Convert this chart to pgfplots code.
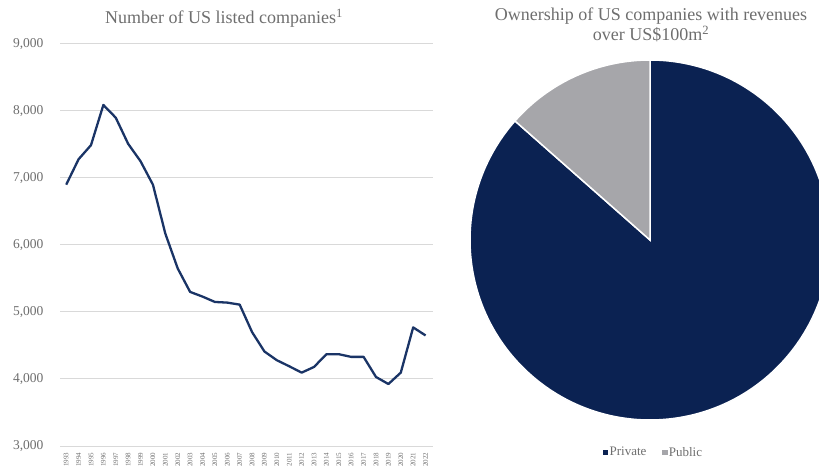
\documentclass[border=0pt]{standalone}
\usepackage{fontspec}
\setmainfont{Liberation Serif}
\usepackage{pgfplots}
\pgfplotsset{compat=1.18}
\definecolor{navy}{HTML}{0B2252}
\definecolor{linenavy}{HTML}{1A3466}
\definecolor{pubgray}{HTML}{A6A6AA}
\definecolor{txtgray}{HTML}{6E6E6E}
\definecolor{gridgray}{HTML}{D9D9D9}
\begin{document}
\begin{tikzpicture}[x=1pt,y=1pt]
\useasboundingbox (0,0) rectangle (819,471);
\begin{axis}[at={(60pt,25pt)}, anchor=south west, scale only axis,
  width=373pt, height=402pt,
  xmin=1992.5, xmax=2022.6, ymin=3000, ymax=9000,
  axis line style={draw=none}, tick style={draw=none},
  ymajorgrids, grid style={gridgray, line width=1pt},
  ytick={3000,4000,...,9000},
  xtick={1993,...,2022},
  /pgf/number format/assume math mode=true,
  x tick label style={rotate=90, anchor=east, font=\fontsize{7}{8}\selectfont, text=txtgray, /pgf/number format/1000 sep={}},
  y tick label style={font=\fontsize{13.5}{15}\selectfont, text=txtgray, /pgf/number format/1000 sep={,}},
  yticklabel shift=13pt, xticklabel shift=3pt,
  clip=false]
\addplot[linenavy, line width=2.3pt, line join=round] coordinates {
(1993,6900) (1994,7280) (1995,7490) (1996,8090) (1997,7900) (1998,7510)
(1999,7250) (2000,6900) (2001,6170) (2002,5650) (2003,5300) (2004,5230)
(2005,5150) (2006,5140) (2007,5110) (2008,4700) (2009,4410) (2010,4280)
(2011,4190) (2012,4095) (2013,4180) (2014,4370) (2015,4370) (2016,4330)
(2017,4330) (2018,4030) (2019,3925) (2020,4095) (2021,4770) (2022,4650)};
\end{axis}
\node[text=txtgray, font=\fontsize{18}{20}\selectfont] at (224,453) {Number of US listed companies\textsuperscript{1}};
\node[text=txtgray, font=\fontsize{18}{20}\selectfont, align=center] at (651,446) {Ownership of US companies with revenues\\over US\$100m\textsuperscript{2}};
\pgfmathsetmacro{\pubpct}{13.5}
\pgfmathsetmacro{\privpct}{86.5}
\pgfmathsetmacro{\angA}{90}
\pgfmathsetmacro{\angB}{90+3.6*\pubpct}
\pgfmathsetmacro{\angC}{\angB+3.6*\privpct}
\begin{axis}[at={(470pt,51pt)}, anchor=south west, scale only axis,
  width=360pt, height=360pt, xmin=-1, xmax=1, ymin=-1, ymax=1, hide axis, clip=false,
  legend columns=2,
  legend style={at={(0.51,-0.09)}, anchor=center, draw=none, fill=none,
    font=\fontsize{13}{14}\selectfont, text=txtgray, /tikz/every even column/.append style={column sep=14pt}},
  legend cell align=left]
\addlegendimage{only marks, mark=square*, mark size=2.2pt, navy}
\addlegendentry{Private}
\addlegendimage{only marks, mark=square*, mark size=2.2pt, pubgray}
\addlegendentry{Public}
\fill[navy, draw=white, line width=1.5pt] (axis cs:0,0) -- ++(\angB:180pt) arc[start angle=\angB, end angle=\angC, radius=180pt] -- cycle;
\fill[pubgray, draw=white, line width=1.5pt] (axis cs:0,0) -- ++(\angA:180pt) arc[start angle=\angA, end angle=\angB, radius=180pt] -- cycle;
\end{axis}
\end{tikzpicture}
\end{document}
